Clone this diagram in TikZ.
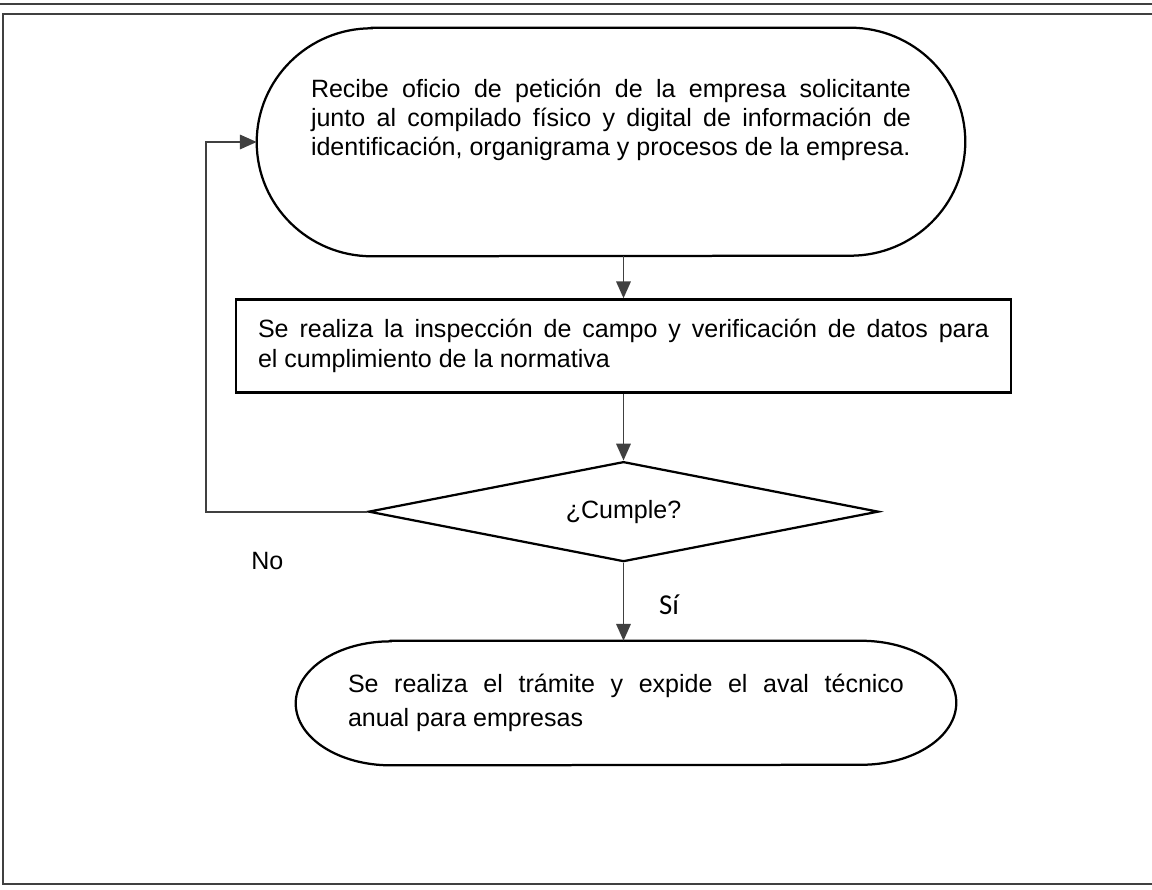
\documentclass[tikz,border=0pt]{standalone}
\usepackage{fontspec}
\setmainfont{Liberation Sans}
\newfontfamily\calibrifont{Carlito}
\usetikzlibrary{positioning,arrows.meta,shapes.geometric}

\begin{document}
\begin{tikzpicture}[
  node distance=1cm,
  frame/.style={draw=black!75, line width=0.8pt},
  outline/.style={draw, line width=1.6pt},
  term/.style={inner sep=0pt},
  txt/.style={font=\fontsize{17.8}{20.5}\selectfont, align=justify, inner sep=0pt},
  proc/.style={draw, line width=1.6pt, font=\fontsize{17.8}{21.35}\selectfont, align=justify, text width=18.275cm, inner xsep=0.55cm, minimum height=2.325cm},
  dec/.style={draw, diamond, shape aspect=5.1, line width=1.6pt, font=\fontsize{17.8}{20}\selectfont, minimum width=12.75cm, minimum height=2.5cm, inner sep=0pt},
  endtxt/.style={font=\fontsize{17.8}{24.2}\selectfont, align=justify, text width=13.9cm, minimum width=16.5cm, minimum height=3.1cm},
  arr/.style={draw=black!75, line width=1.4pt, -{Triangle[length=0.42cm, width=0.36cm]}},
  lbl/.style={font=\fontsize{17.8}{20}\selectfont, inner sep=0pt},
]
  \useasboundingbox (0,0) rectangle (28.8,22.25);

  % page frame
  \draw[frame] (0,22.15) -- (28.8,22.15);
  \draw[frame] (28.8,21.9) -- (0.075,21.9) -- (0.075,0.15) -- (28.8,0.15);

  % start
  \node[term, minimum width=17.7cm, minimum height=5.7cm] (recv) at (15.275,18.7) {};
  \node[txt, text width=15cm, anchor=base] (recvtxt) at ([yshift=-1.75cm]recv.north)
    {Recibe oficio de petición de la empresa solicitante\linebreak
     junto al compilado físico y digital de información de\linebreak
     identificación, organigrama y procesos de la empresa.};
  \draw[outline] ([xshift=2.875cm]recv.north west) -- ([xshift=-2.875cm]recv.north east)
    arc[start angle=90, end angle=-90, x radius=2.875cm, y radius=2.85cm]
    -- ([xshift=2.875cm]recv.south west)
    arc[start angle=270, end angle=90, x radius=2.875cm, y radius=2.85cm] -- cycle;

  % inspection
  \node[proc, below=1.05cm of recv, xshift=0.3125cm] (insp)
    {Se realiza la inspección de campo y verificación de datos para\linebreak
     el cumplimiento de la normativa};

  % decision
  \node[dec, below=1.675cm of insp] (chk) {¿Cumple?};

  % end
  \node[endtxt, below=1.95cm of chk, xshift=0.0625cm] (done)
    {Se realiza el trámite y expide el aval técnico\linebreak
     anual para empresas};
  \draw[outline] ([xshift=2.375cm]done.north west) -- ([xshift=-2.375cm]done.north east)
    arc[start angle=90, end angle=-90, x radius=2.375cm, y radius=1.55cm]
    -- ([xshift=2.375cm]done.south west)
    arc[start angle=270, end angle=90, x radius=2.375cm, y radius=1.55cm] -- cycle;

  % labels
  \node[lbl] (no) at ([xshift=-2.5cm, yshift=-1.225cm]chk.west) {No};
  \node[lbl, font=\calibrifont\fontsize{20.5}{22}\selectfont] (si) at ([xshift=1.14cm, yshift=-1.05cm]chk.south) {Sí};

  % connectors
  \draw[arr] (recv.south -| insp.north) -- (insp.north);
  \draw[arr] (insp.south) -- (chk.north);
  \draw[arr] (chk.south) -- (chk.south |- done.north);
  \draw[arr] (chk.west) -- ++(-4.025cm,0) |- (recv.west);
\end{tikzpicture}
\end{document}
